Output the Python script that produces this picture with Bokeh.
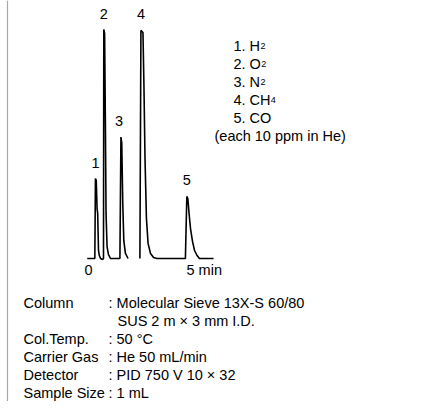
from bokeh.plotting import figure
from bokeh.models import Range1d, Span
from bokeh.core.properties import value
from bokeh.embed import file_html
from bokeh.resources import INLINE

# ---------------- data ----------------
# chromatogram trace: retention time (min) and detector signal (relative units)
trace_time = [-0.06, 0.26, 0.31, 0.34, 0.38, 0.42, 0.45, 0.49, 0.53, 0.59, 0.69, 0.735,
              0.75, 0.79, 0.83, 0.86, 0.91, 0.98, 1.08,
              1.54, 1.59, 1.63, 1.68, 1.73, 1.81, 1.94,
              float("nan"),
              2.52, 2.57, 2.67, 2.72, 2.77, 2.84, 2.92, 3.04, 3.19, 3.36,
              4.75, 4.82, 4.87, 4.93, 5.00, 5.10, 5.20, 5.32, 5.44, 6.13]
trace_signal = [0, 0, 0, 34.9, 34.1, 21.8, 19.7, 3.5, 1.3, 0, -0.4, 0,
                100, 98.3, 56.8, 19.7, 5.2, 1.7, 0,
                0, 53, 50.5, 24, 7.9, 2.2, 0,
                float("nan"),
                0, 99.6, 98.7, 74.2, 43.7, 17.5, 6.6, 2.2, 0.4, 0,
                0, 27.1, 26.2, 19.7, 13.1, 7.4, 3.5, 1.3, 0, 0]

peak_ids = ["1", "2", "3", "4", "5"]
peak_times = [0.34, 0.75, 1.50, 2.57, 4.82]
peak_heights = [34.9, 100, 53, 99.6, 27.1]

tick_values = [0, 5]
tick_labels = ["0", "5 min"]

legend_main = ["1. H", "2. O", "3. N", "4. CH", "5. CO"]
legend_sub = ["2", "2", "2", "4", ""]
legend_note = "(each 10 ppm in He)"

cond_names = ["Column", "", "Col.Temp.", "Carrier Gas", "Detector", "Sample Size"]
cond_values = [": Molecular Sieve 13X-S 60/80", "SUS 2 m × 3 mm I.D.", ": 50 °C",
               ": He 50 mL/min", ": PID 750 V 10 × 32", ": 1 mL"]

# ---------------- layout ----------------
W, H = 406, 401
X0 = 88.0          # px of t = 0
PX_PER_MIN = 20.4
Y0 = 258.0         # px (from top) of signal 0
PX_PER_UNIT = 2.29
FS = "14.5px"


def dx(px):
    return (px - X0) / PX_PER_MIN


def dy(py):
    return (Y0 - py) / PX_PER_UNIT


FONT = value("Liberation Sans")

p = figure(width=W, height=H, output_backend="svg", toolbar_location=None,
           x_range=Range1d(dx(0), dx(W)), y_range=Range1d(dy(H), dy(0)),
           x_axis_location=None, y_axis_location=None, min_border=0,
           outline_line_color=None, background_fill_color="white",
           border_fill_color="white")
p.xgrid.visible = False
p.ygrid.visible = False

# left frame line
p.add_layout(Span(location=dx(7), dimension="height", line_color="#a8a8a8", line_width=1.2))

# trace
p.line(trace_time, trace_signal, line_color="black", line_width=1.6)

# peak labels
p.text(peak_times, peak_heights, text=peak_ids, text_font=FONT, text_font_size=FS,
       text_align="center", text_baseline="bottom", y_offset=-11, text_color="black")

# time ticks
p.text([tick_values[0]], [0], text=[tick_labels[0]], text_font=FONT, text_font_size=FS,
       text_align="center", text_baseline="middle", y_offset=11, text_color="black")
p.text([tick_values[1]], [0], text=[tick_labels[1]], text_font=FONT, text_font_size=FS,
       text_align="left", text_baseline="middle", x_offset=-4, y_offset=11, text_color="black")

# legend of components (with subscripts)
char_w = {"1": 556, "2": 556, "3": 556, "4": 556, "5": 556, ".": 278, " ": 278,
          "H": 722, "O": 778, "N": 722, "C": 722}
leg_x, leg_y0, leg_dy = 233, 45, 18
for i, (m, s) in enumerate(zip(legend_main, legend_sub)):
    yy = leg_y0 + i * leg_dy
    p.text([dx(leg_x)], [dy(yy)], text=[m], text_font=FONT, text_font_size=FS,
           text_align="left", text_baseline="alphabetic", text_color="black")
    if s:
        wpx = sum(char_w[c] for c in m) / 1000 * 14.5
        p.text([dx(leg_x + wpx + 0.3)], [dy(yy + 0.5)], text=[s], text_font=FONT,
               text_font_size="9px", text_align="left", text_baseline="alphabetic",
               text_color="black")
p.text([dx(214)], [dy(leg_y0 + 5 * leg_dy)], text=[legend_note], text_font=FONT,
       text_font_size=FS, text_align="left", text_baseline="alphabetic", text_color="black")

# analysis conditions
row_y0, row_dy = 302, 18
for i, (n, v) in enumerate(zip(cond_names, cond_values)):
    yy = row_y0 + i * row_dy
    if n:
        p.text([dx(23)], [dy(yy)], text=[n], text_font=FONT, text_font_size=FS,
               text_align="left", text_baseline="alphabetic", text_color="black")
    vx = 108 if v.startswith(":") else 117
    p.text([dx(vx)], [dy(yy)], text=[v], text_font=FONT, text_font_size=FS,
           text_align="left", text_baseline="alphabetic", text_color="black")

open("out.html", "w").write(file_html(p, INLINE))
